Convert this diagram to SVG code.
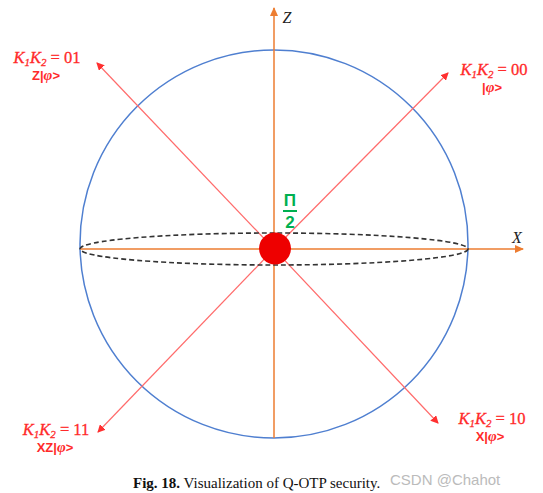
<svg xmlns="http://www.w3.org/2000/svg" width="543" height="493" viewBox="0 0 543 493">
<style>
.lbl{font-family:"Liberation Serif","DejaVu Serif",serif;font-style:italic;font-size:16.5px;fill:#ff2a2a;stroke:#ff2a2a;stroke-width:0.3;text-anchor:middle}
.st{font-family:"Liberation Sans","DejaVu Sans",sans-serif;font-size:13px;font-weight:bold;fill:#ff2a2a;text-anchor:middle}
.ray{stroke:#ff6b6b;stroke-width:1.2;fill:none;marker-end:url(#ra)}
.ax{stroke:#ed7d31;stroke-width:1.5;fill:none;marker-end:url(#oa)}
</style>
<defs>
<marker id="ra" markerWidth="8" markerHeight="8" refX="7" refY="4" orient="auto" markerUnits="userSpaceOnUse"><path d="M0,0 L8,4 L0,8 Z" fill="#ff3030"/></marker>
<marker id="oa" markerWidth="9" markerHeight="8" refX="8" refY="4" orient="auto" markerUnits="userSpaceOnUse"><path d="M0,0 L9,4 L0,8 Z" fill="#ed7d31"/></marker>
</defs>
<rect width="543" height="493" fill="#fff"/>
<g id="sphere">
<circle cx="274" cy="244" r="194" fill="none" stroke="#4f7fd0" stroke-width="1.5"/>
</g>
<g id="connectors">
<line class="ray" x1="274" y1="249" x2="97" y2="63"/>
<line class="ray" x1="274" y1="249" x2="448" y2="73"/>
<line class="ray" x1="274" y1="249" x2="98" y2="432"/>
<line class="ray" x1="274" y1="249" x2="438" y2="423"/>
<line class="ax" x1="274" y1="438" x2="274" y2="8"/>
<line class="ax" x1="80" y1="249" x2="523" y2="249"/>
</g>
<g id="equator">
<ellipse cx="274" cy="249" rx="194" ry="16" fill="none" stroke="#333" stroke-width="1.6" stroke-dasharray="5,3"/>
</g>
<g id="state">
<circle cx="275" cy="248.5" r="16" fill="#ee0000"/>
</g>
<g id="angle">
<text x="290" y="206" font-family="Liberation Sans,DejaVu Sans,sans-serif" font-weight="bold" font-size="17" fill="#00b050" text-anchor="middle">Π</text>
<line x1="283" y1="211" x2="297" y2="211" stroke="#00b050" stroke-width="2"/>
<text x="290" y="228" font-family="Liberation Sans,DejaVu Sans,sans-serif" font-weight="bold" font-size="17" fill="#00b050" text-anchor="middle">2</text>
</g>
<g id="axis-labels">
<text x="287" y="23" font-family="Liberation Serif,serif" font-style="italic" font-size="16" fill="#222" text-anchor="middle">Z</text>
<text x="517" y="243" font-family="Liberation Serif,serif" font-style="italic" font-size="16" fill="#222" text-anchor="middle">X</text>
</g>
<g id="k01">
<text class="lbl" x="47" y="63">K<tspan font-size="11" dy="3">1</tspan><tspan dy="-3">K</tspan><tspan font-size="11" dy="3">2</tspan><tspan dy="-3" font-style="normal"> = 01</tspan></text>
<text class="st" x="46" y="80">Z|<tspan font-style="italic" font-family="Liberation Serif,serif" font-size="15">φ</tspan>&gt;</text>
</g>
<g id="k00">
<text class="lbl" x="494" y="75">K<tspan font-size="11" dy="3">1</tspan><tspan dy="-3">K</tspan><tspan font-size="11" dy="3">2</tspan><tspan dy="-3" font-style="normal"> = 00</tspan></text>
<text class="st" x="492" y="92">|<tspan font-style="italic" font-family="Liberation Serif,serif" font-size="15">φ</tspan>&gt;</text>
</g>
<g id="k11">
<text class="lbl" x="56" y="435">K<tspan font-size="11" dy="3">1</tspan><tspan dy="-3">K</tspan><tspan font-size="11" dy="3">2</tspan><tspan dy="-3" font-style="normal"> = 11</tspan></text>
<text class="st" x="55" y="452">XZ|<tspan font-style="italic" font-family="Liberation Serif,serif" font-size="15">φ</tspan>&gt;</text>
</g>
<g id="k10">
<text class="lbl" x="492" y="424">K<tspan font-size="11" dy="3">1</tspan><tspan dy="-3">K</tspan><tspan font-size="11" dy="3">2</tspan><tspan dy="-3" font-style="normal"> = 10</tspan></text>
<text class="st" x="490" y="441">X|<tspan font-style="italic" font-family="Liberation Serif,serif" font-size="15">φ</tspan>&gt;</text>
</g>
<g id="caption">
<text x="133" y="488" font-family="Liberation Serif,serif" font-size="15" fill="#111"><tspan font-weight="bold">Fig. 18.</tspan> Visualization of Q-OTP security.</text>
<text x="390" y="485" font-family="Liberation Sans,sans-serif" font-size="15" fill="#bbb">CSDN @Chahot</text>
</g>
</svg>
